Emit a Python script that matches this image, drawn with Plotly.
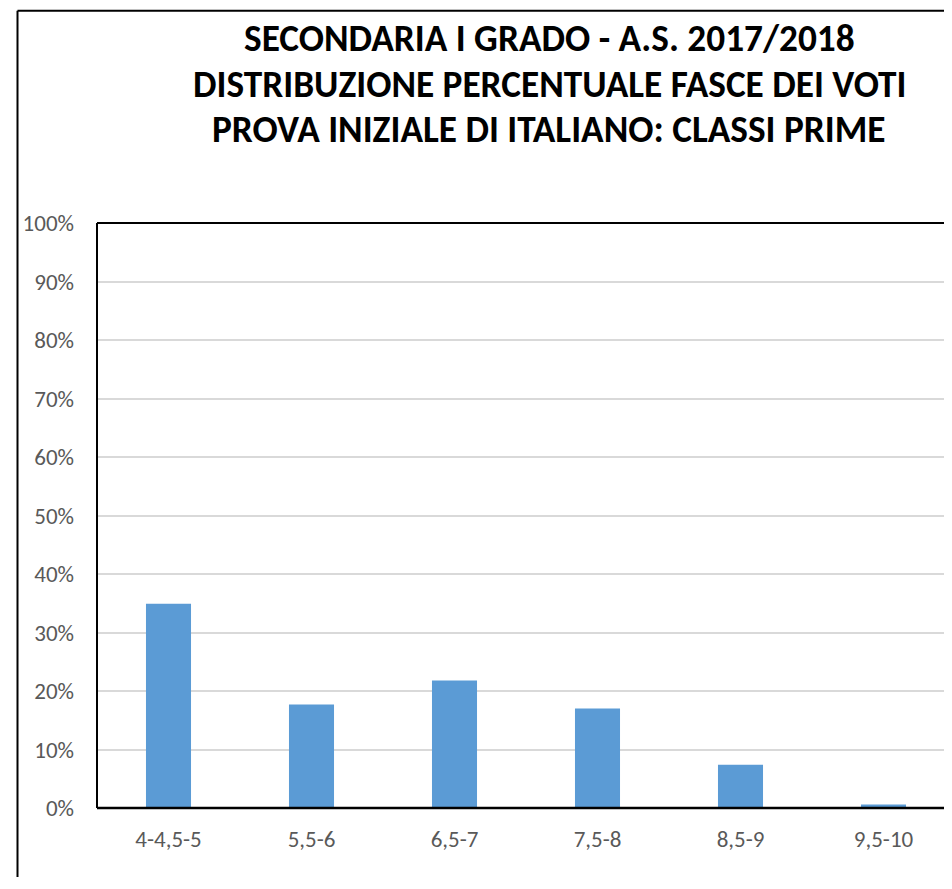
import plotly.graph_objects as go

categories = ["4-4,5-5", "5,5-6", "6,5-7", "7,5-8", "8,5-9", "9,5-10"]
values = [34.9, 17.7, 21.8, 17.0, 7.4, 0.6]
y_ticks = [0, 10, 20, 30, 40, 50, 60, 70, 80, 90, 100]
y_ticklabels = [f"{v}%" for v in y_ticks]
title_lines = [
    "SECONDARIA I GRADO - A.S. 2017/2018",
    "DISTRIBUZIONE PERCENTUALE FASCE DEI VOTI",
    "PROVA INIZIALE DI ITALIANO: CLASSI PRIME",
]

OFF = 8  # default page margin of the browser
W, H = 952 - OFF, 889 - 2 * OFF - 4
# plot area in page pixels
L, R, T, B = 97 - OFF, 952 - OFF, 222.5 - OFF, 808.5 - OFF

def px_x(x):
    return (x - OFF - L) / (R - L)

def px_y(y):
    return (B - (y - OFF)) / (B - T)

FONT = "Carlito, Lato, sans-serif"

fig = go.Figure()
fig.add_trace(go.Bar(
    x=categories, y=values, width=0.315,
    marker=dict(color="#5b9bd5", line=dict(width=0)),
    hoverinfo="skip",
))

shapes = []
# plot area border (top, left) and bottom axis
shapes.append(dict(type="line", xref="paper", yref="paper", x0=0, x1=1.01, y0=1, y1=1,
                   line=dict(color="#000000", width=2)))
shapes.append(dict(type="line", xref="paper", yref="paper", x0=0, x1=0, y0=0, y1=1,
                   line=dict(color="#000000", width=2)))
shapes.append(dict(type="line", xref="paper", yref="paper", x0=0, x1=1.01, y0=0, y1=0,
                   line=dict(color="#000000", width=2.5)))
# outer chart frame
shapes.append(dict(type="line", xref="paper", yref="paper", x0=px_x(17.5), x1=px_x(17.5),
                   y0=px_y(10), y1=px_y(900), line=dict(color="#000000", width=2)))
shapes.append(dict(type="line", xref="paper", yref="paper", x0=px_x(17.5), x1=px_x(960),
                   y0=px_y(10), y1=px_y(10), line=dict(color="#000000", width=2)))

annotations = []
title_centers = [37.5, 83, 128.5]
for line, yc in zip(title_lines, title_centers):
    annotations.append(dict(
        text=f"<b>{line}</b>", xref="paper", yref="paper",
        x=px_x(549), y=px_y(yc), xanchor="center", yanchor="middle",
        showarrow=False, font=dict(family=FONT, size=37.3, color="#000000"),
    ))

fig.update_layout(
    width=W, height=H,
    margin=dict(l=L, r=W - R, t=T, b=H - B, pad=0),
    paper_bgcolor="white", plot_bgcolor="white",
    showlegend=False,
    shapes=shapes, annotations=annotations,
    xaxis=dict(
        type="category", range=[-0.5, -0.5 + (R - L) / 143.0],
        showgrid=False, showline=False, zeroline=False, ticks="",
        tickfont=dict(family=FONT, size=23, color="#595959"),
        ticklabelstandoff=15, fixedrange=True,
    ),
    yaxis=dict(
        range=[0, 100], tickvals=y_ticks, ticktext=y_ticklabels,
        showgrid=True, gridcolor="#d9d9d9", gridwidth=1.5,
        showline=False, zeroline=False, ticks="",
        tickfont=dict(family=FONT, size=23, color="#595959"),
        ticklabelstandoff=22, fixedrange=True,
    ),
)

fig.write_html("out.html")
